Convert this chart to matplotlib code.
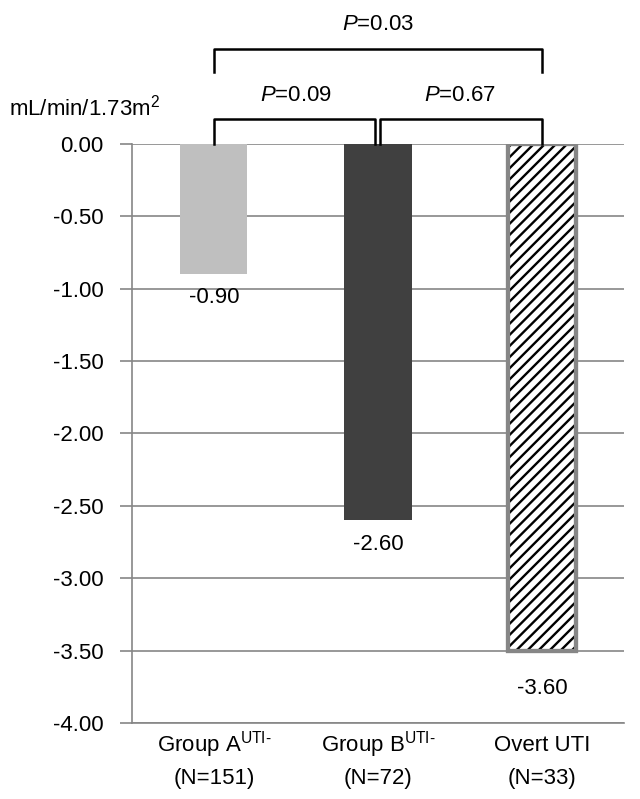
import matplotlib.pyplot as plt
import matplotlib.transforms as mtransforms

plt.rcParams['font.family'] = ['Liberation Sans', 'DejaVu Sans']
plt.rcParams['mathtext.fontset'] = 'custom'
plt.rcParams['mathtext.rm'] = 'Liberation Sans'
plt.rcParams['mathtext.it'] = 'Liberation Sans:italic'
plt.rcParams['hatch.linewidth'] = 1.7

# Data
groups = [r"Group A$^{\mathrm{UTI\text{-}}}$",
          r"Group B$^{\mathrm{UTI\text{-}}}$",
          "Overt UTI"]
group_n = ["(N=151)", "(N=72)", "(N=33)"]
bar_values = [-0.90, -2.60, -3.50]
value_labels = ["-0.90", "-2.60", "-3.60"]
yticks = [0.0, -0.5, -1.0, -1.5, -2.0, -2.5, -3.0, -3.5, -4.0]
comparisons = [(0, 1, "0.09"), (1, 2, "0.67"), (0, 2, "0.03")]

fs = 16
grey = '#868686'

fig = plt.figure(figsize=(6.4, 7.99), dpi=100)
ax = fig.add_axes([0.206, 0.0951, 0.769, 0.7247])

colors = ['#bfbfbf', '#404040', 'white']
for i, v in enumerate(bar_values):
    if i == 2:
        ax.bar(i, v, width=0.41, color='white', edgecolor=grey, linewidth=3, zorder=3)
        ax.bar(i, v, width=0.41, color='none', edgecolor='black', linewidth=0,
               hatch='///', zorder=3)
        ax.bar(i, v, width=0.41, color='none', edgecolor=grey, linewidth=3, zorder=3)
    else:
        ax.bar(i, v, width=0.41, color=colors[i], zorder=3)

for i, lab in enumerate(value_labels):
    ax.annotate(lab, (i, float(lab)), xytext=(0, -9.5), textcoords='offset points',
                ha='center', va='top', fontsize=fs)

ax.set_ylim(-4, 0)
ax.set_xlim(-0.5, 2.5)
ax.set_yticks(yticks)
ax.set_yticklabels([f"{t:.2f}" for t in yticks])
ax.set_xticks(range(len(groups)))
ax.set_xticklabels([])
ax.yaxis.grid(True, color=grey, linewidth=1.2, zorder=0)
ax.tick_params(axis='y', length=8.5, width=1.2, color=grey, pad=12, labelsize=fs)
ax.tick_params(axis='x', length=0)
for s in ['top', 'right']:
    ax.spines[s].set_visible(False)
for s in ['left', 'bottom']:
    ax.spines[s].set_color(grey)
    ax.spines[s].set_linewidth(1.2)

# two-line category labels
trans = mtransforms.blended_transform_factory(ax.transData, ax.transAxes)
for i, (g, n) in enumerate(zip(groups, group_n)):
    ax.text(i, -0.0484, g, transform=trans, ha='center', va='baseline', fontsize=fs)
    ax.text(i, -0.1054, n, transform=trans, ha='center', va='baseline', fontsize=fs)

# significance brackets
def bracket(a, b, y0, y1, text, ty, dx_left=0.0, dx_right=0.0):
    ax.plot([a + dx_left, a + dx_left, b + dx_right, b + dx_right], [y0, y1, y1, y0],
            color='black', linewidth=1.8, clip_on=False, zorder=4)
    ax.text((a + b) / 2, ty, r"$P$=" + text, ha='center', va='center', fontsize=fs,
            clip_on=False)

bracket(comparisons[0][0], comparisons[0][1], 0.0, 0.173, comparisons[0][2], 0.338,
        dx_right=-0.02)
bracket(comparisons[1][0], comparisons[1][1], 0.0, 0.173, comparisons[1][2], 0.338,
        dx_left=0.012)
bracket(comparisons[2][0], comparisons[2][1], 0.497, 0.656, comparisons[2][2], 0.822)

fig.text(85 / 640, 1 - 108 / 799, r"mL/min/1.73m$^2$", ha='center', va='center', fontsize=fs)

fig.savefig('out.png', dpi=100)
